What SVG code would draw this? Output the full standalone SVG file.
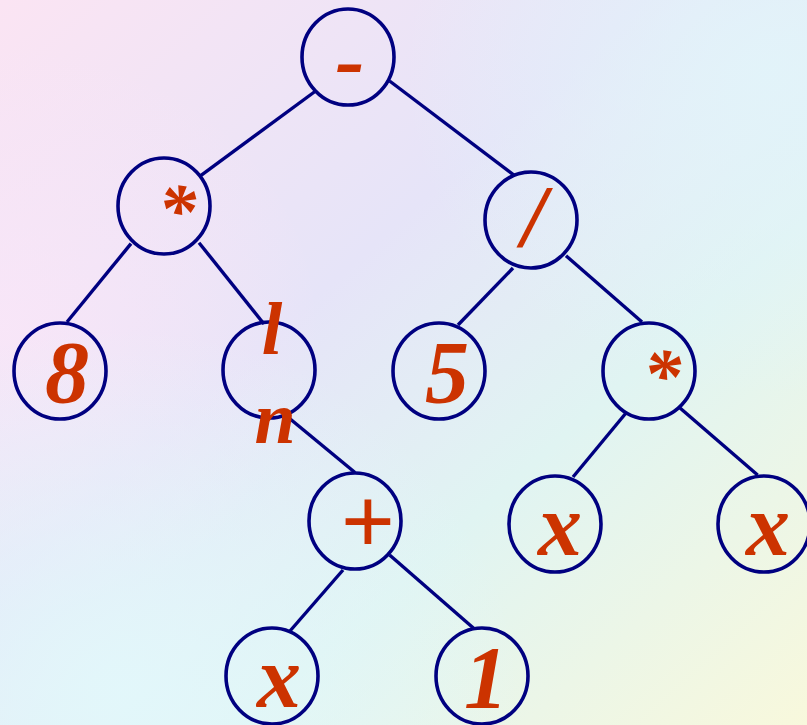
<svg xmlns="http://www.w3.org/2000/svg" width="807" height="725" viewBox="0 0 807 725">
<defs>
<linearGradient id="bg" x1="0" y1="0" x2="1" y2="1">
<stop offset="0" stop-color="#fbe4f3"/>
<stop offset="0.4" stop-color="#e6e4f8"/>
<stop offset="0.65" stop-color="#e0f4f2"/>
<stop offset="1" stop-color="#f8f8dc"/>
</linearGradient>
<radialGradient id="bl" cx="0.15" cy="0.95" r="0.5">
<stop offset="0" stop-color="#e2f8fb" stop-opacity="0.9"/>
<stop offset="1" stop-color="#e2f8fb" stop-opacity="0"/>
</radialGradient>
<radialGradient id="tr" cx="0.95" cy="0.1" r="0.45">
<stop offset="0" stop-color="#e2f4fa" stop-opacity="0.9"/>
<stop offset="1" stop-color="#e2f4fa" stop-opacity="0"/>
</radialGradient>
<radialGradient id="lp" cx="0" cy="0.45" r="0.4">
<stop offset="0" stop-color="#fae6f8" stop-opacity="0.8"/>
<stop offset="1" stop-color="#fae6f8" stop-opacity="0"/>
</radialGradient>
<style>
.n ellipse{fill:none;stroke:#000080;stroke-width:3.6}
.e line{stroke:#000080;stroke-width:3.4}
.t{font-family:"Liberation Serif","Times New Roman",serif;font-weight:bold;font-style:italic;fill:#cc3300;text-anchor:middle;font-size:88px}
.s{font-size:74px}
.a{font-size:76px}
.p{font-size:96px}
</style>
</defs>
<rect width="807" height="725" fill="url(#bg)"/>
<rect width="807" height="725" fill="url(#lp)"/>
<rect width="807" height="725" fill="url(#bl)"/>
<rect width="807" height="725" fill="url(#tr)"/>
<g id="connectors" class="e">
<line x1="315" y1="91.5" x2="200.7" y2="175.7"/>
<line x1="389.6" y1="81" x2="513.6" y2="174.8"/>
<line x1="131" y1="243.6" x2="67" y2="322"/>
<line x1="199" y1="242.7" x2="264" y2="324"/>
<line x1="289" y1="418" x2="355" y2="472.5"/>
<line x1="513" y1="268" x2="458" y2="325"/>
<line x1="566" y1="255.7" x2="642" y2="322"/>
<line x1="626" y1="413" x2="573" y2="477"/>
<line x1="680" y1="408" x2="757.6" y2="475"/>
<line x1="343" y1="570" x2="290" y2="631"/>
<line x1="389.6" y1="555" x2="474.5" y2="629"/>
</g>
<g id="n-minus" class="n"><ellipse cx="348" cy="57" rx="46" ry="48"/><text class="t" x="350" y="89">-</text></g>
<g id="n-mul1" class="n"><ellipse cx="164" cy="206" rx="46" ry="48"/><text class="t a" x="177" y="236">*</text></g>
<g id="n-div" class="n"><ellipse cx="531" cy="220" rx="46" ry="48"/><text class="t" x="534" y="246">/</text></g>
<g id="n-8" class="n"><ellipse cx="60" cy="371" rx="46" ry="48"/><text class="t" x="67" y="402">8</text></g>
<g id="n-ln" class="n"><ellipse cx="269" cy="370" rx="46" ry="48"/><text class="t s" x="272" y="354">l</text><text class="t s" x="275" y="443">n</text></g>
<g id="n-5" class="n"><ellipse cx="439" cy="371" rx="46" ry="48"/><text class="t" x="447" y="402">5</text></g>
<g id="n-mul2" class="n"><ellipse cx="649" cy="371" rx="46" ry="48"/><text class="t a" x="662" y="401">*</text></g>
<g id="n-plus" class="n"><ellipse cx="355" cy="521" rx="46" ry="48"/><text class="t p" x="367" y="553">+</text></g>
<g id="n-x1" class="n"><ellipse cx="555" cy="524" rx="46" ry="48"/><text class="t" x="560" y="555">x</text></g>
<g id="n-x2" class="n"><ellipse cx="764" cy="524" rx="46" ry="48"/><text class="t" x="768" y="555">x</text></g>
<g id="n-x3" class="n"><ellipse cx="272" cy="676" rx="46" ry="48"/><text class="t" x="279" y="707">x</text></g>
<g id="n-1" class="n"><ellipse cx="482" cy="676" rx="46" ry="48"/><text class="t" x="486" y="707">1</text></g>
</svg>
